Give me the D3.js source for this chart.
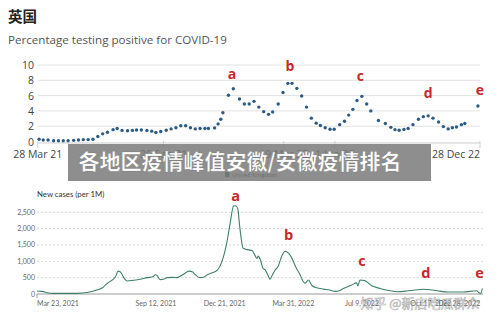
<!DOCTYPE html>
<html>
<head>
<meta charset="utf-8">
<script src="https://cdn.jsdelivr.net/npm/d3@7"></script>
<style>
  html, body { margin: 0; padding: 0; background: #fff; }
  svg { display: block; }
</style>
</head>
<body>
<div id="chart"></div>
<script>
// ---- data: percentage testing positive (ONS, weekly dots) ----
const posDates = [
  "2021-03-30","2021-04-05","2021-04-12","2021-04-20","2021-04-27","2021-05-04","2021-05-11","2021-05-19",
  "2021-05-26","2021-06-02","2021-06-09","2021-06-16","2021-06-23","2021-06-30","2021-07-07","2021-07-15",
  "2021-07-21","2021-07-28","2021-08-05","2021-08-12","2021-08-18","2021-08-25","2021-09-02","2021-09-09",
  "2021-09-15","2021-09-22","2021-09-30","2021-10-07","2021-10-14","2021-10-21","2021-10-28","2021-11-04",
  "2021-11-11","2021-11-18","2021-11-25","2021-11-30","2021-12-09","2021-12-14","2021-12-18","2021-12-21",
  "2021-12-29","2022-01-05","2022-01-14","2022-01-21","2022-01-28","2022-02-04","2022-02-11","2022-02-18",
  "2022-02-25","2022-03-03","2022-03-11","2022-03-18","2022-03-25","2022-03-31","2022-04-07","2022-04-14",
  "2022-04-21","2022-04-28","2022-05-05","2022-05-11","2022-05-18","2022-05-25","2022-05-31","2022-06-08",
  "2022-06-15","2022-06-21","2022-06-27","2022-07-03","2022-07-10","2022-07-17","2022-07-23","2022-08-03",
  "2022-08-13","2022-08-21","2022-08-27","2022-09-02","2022-09-09","2022-09-15","2022-09-22","2022-09-30",
  "2022-10-07","2022-10-14","2022-10-21","2022-10-29","2022-11-05","2022-11-12","2022-11-18","2022-11-24",
  "2022-12-01","2022-12-06","2022-12-25"
];
const posValues = [
  0.3,0.2,0.2,0.1,0.1,0.1,0.1,0.15,
  0.2,0.25,0.25,0.3,0.65,1.0,1.2,1.55,
  1.7,1.45,1.4,1.45,1.5,1.5,1.45,1.35,
  1.17,1.3,1.48,1.65,1.8,2.05,2.05,1.8,
  1.65,1.7,1.7,1.7,1.78,2.3,2.9,3.75,
  6.05,6.9,5.55,4.9,4.9,5.25,4.5,3.9,
  3.55,3.85,4.9,6.4,7.6,7.6,6.95,5.95,
  4.5,3.05,2.4,2.1,1.8,1.6,1.6,2.2,
  2.65,3.45,4.2,5.35,5.9,4.9,4.0,2.75,
  2.35,1.85,1.55,1.47,1.56,1.7,2.2,2.9,
  3.25,3.35,3.05,2.55,1.95,1.65,1.8,1.9,
  2.2,2.35,4.65
];
const posTickDates = ["2021-03-28","2021-09-26","2022-03-19","2022-06-01","2022-12-28"];
const posTickLabels = ["28 Mar 21","26 Sep 21","19 Mar 22","1 Jun 22","28 Dec 22"];
const posYTicks = [0, 2, 4, 6, 8, 10];
const posPeakLabels = ["a","b","c","d","e"];
const posPeakDates = ["2022-01-03","2022-03-28","2022-07-08","2022-10-14","2022-12-28"];
const posPeakValues = [8.2, 9.2, 7.9, 5.7, 6.1];

// ---- data: new cases per 1M (line) ----
const caseDates = [
  "2021-03-23","2021-03-30","2021-04-07","2021-04-15","2021-04-25","2021-05-06","2021-05-20","2021-06-04",
  "2021-06-13","2021-06-18","2021-06-23","2021-06-27","2021-06-30","2021-07-07","2021-07-15","2021-07-19",
  "2021-07-22","2021-07-28","2021-08-01","2021-08-10","2021-08-20","2021-08-30","2021-09-08","2021-09-11",
  "2021-09-14","2021-09-18","2021-09-24","2021-09-28","2021-10-07","2021-10-13","2021-10-17","2021-10-24",
  "2021-10-30","2021-11-04","2021-11-08","2021-11-15","2021-11-20","2021-11-25","2021-12-02","2021-12-10",
  "2021-12-17","2021-12-24","2021-12-29","2022-01-03","2022-01-06","2022-01-09","2022-01-12","2022-01-17",
  "2022-01-25","2022-01-30","2022-02-03","2022-02-06","2022-02-08","2022-02-11","2022-02-15","2022-02-18",
  "2022-02-23","2022-02-25","2022-02-28","2022-03-04","2022-03-09","2022-03-14","2022-03-19","2022-03-24",
  "2022-03-29","2022-04-03","2022-04-10","2022-04-15","2022-04-17","2022-04-22","2022-04-27","2022-05-04",
  "2022-05-14","2022-05-23","2022-05-31","2022-06-07","2022-06-12","2022-06-24","2022-07-01","2022-07-03",
  "2022-07-06","2022-07-13","2022-07-23","2022-08-04","2022-08-19","2022-08-29","2022-09-12","2022-09-24",
  "2022-10-06","2022-10-16","2022-10-26","2022-11-14","2022-12-03","2022-12-23","2022-12-26","2022-12-29",
  "2022-12-31"
];
const caseValues = [
  90,80,40,20,18,18,20,45,
  90,120,160,200,265,380,520,700,
  680,480,400,420,450,500,530,590,
  560,440,460,500,510,500,540,630,
  700,680,600,500,510,580,640,720,
  990,1550,2160,2690,2700,2620,2060,1400,
  1350,1330,1190,1090,1160,1050,780,740,
  530,450,560,720,850,1150,1310,1250,
  1090,850,580,360,330,430,260,190,
  150,120,80,110,170,275,340,250,
  430,410,250,170,100,70,90,120,
  145,130,100,60,60,100,40,20,
  170
];
const caseTickDates = ["2021-03-23","2021-09-12","2021-12-21","2022-03-31","2022-07-09","2022-10-17","2022-12-28"];
const caseTickLabels = ["Mar 23, 2021","Sep 12, 2021","Dec 21, 2021","Mar 31, 2022","Jul 9, 2022","Oct 17, 2022","Dec 28, 2022"];
const caseYTicks = [0, 500, 1000, 1500, 2000, 2500];
const casePeakLabels = ["a","b","c","d","e"];
const casePeakDates = ["2022-01-06","2022-03-24","2022-07-09","2022-10-10","2022-12-27"];
const casePeakValues = [2850, 1650, 860, 490, 480];

const parse = d3.timeParse("%Y-%m-%d");
const W = 500, H = 325;
const red = "#c8282a";

const svg = d3.select("#chart").append("svg")
  .attr("width", W).attr("height", H);

// ================= top chart =================
svg.append("text").attr("x", 8).attr("y", 22)
  .attr("font-family", "'Noto Sans CJK SC', sans-serif")
  .attr("font-weight", "bold").attr("font-size", 14.5).attr("fill", "#222")
  .text("英国");
svg.append("text").attr("x", 8).attr("y", 44)
  .attr("font-family", "'Open Sans', sans-serif")
  .attr("font-size", 11.6).attr("fill", "#555")
  .text("Percentage testing positive for COVID-19");

const xTop = d3.scaleTime()
  .domain([parse("2021-03-28"), parse("2022-12-28")])
  .range([37.7, 480]);
const yTop = d3.scaleLinear().domain([0, 10]).range([141.5, 65]);

const topG = svg.append("g").attr("font-family", "'Open Sans', sans-serif");

// gridlines
topG.selectAll("line.grid").data(posYTicks.filter(d => d > 0)).join("line")
  .attr("class", "grid")
  .attr("x1", 37.7).attr("x2", 480)
  .attr("y1", d => yTop(d)).attr("y2", d => yTop(d))
  .attr("stroke", "#e2e2e2").attr("stroke-width", 1);

// y labels
topG.selectAll("text.yl").data(posYTicks).join("text")
  .attr("class", "yl")
  .attr("x", 34).attr("y", d => yTop(d) + 4)
  .attr("text-anchor", "end")
  .attr("font-size", 10.5).attr("fill", "#444")
  .text(d => d);

// x axis
const xAxisTop = topG.append("g").attr("transform", "translate(0,143)");
xAxisTop.append("line").attr("x1", 37.7).attr("x2", 480)
  .attr("stroke", "#cfcfcf");
xAxisTop.selectAll("line.tk").data(posTickDates).join("line")
  .attr("class", "tk")
  .attr("x1", d => xTop(parse(d))).attr("x2", d => xTop(parse(d)))
  .attr("y1", -2).attr("y2", 5)
  .attr("stroke", "#cfcfcf");
xAxisTop.selectAll("text").data(posTickDates).join("text")
  .attr("x", d => xTop(parse(d)))
  .attr("y", 15)
  .attr("text-anchor", (d, i) => i === posTickDates.length - 1 ? "end" : "middle")
  .attr("font-size", 10.5).attr("fill", "#444")
  .text((d, i) => posTickLabels[i]);

// dots
topG.selectAll("circle").data(posDates).join("circle")
  .attr("cx", d => xTop(parse(d)))
  .attr("cy", (d, i) => yTop(posValues[i]))
  .attr("r", 1.7)
  .attr("fill", "#2d5b84");

// peak letters
topG.selectAll("text.pk").data(posPeakLabels).join("text")
  .attr("class", "pk")
  .attr("x", (d, i) => xTop(parse(posPeakDates[i])))
  .attr("y", (d, i) => yTop(posPeakValues[i]))
  .attr("text-anchor", "middle")
  .attr("font-family", "'Open Sans', sans-serif")
  .attr("font-weight", "bold").attr("font-size", 14).attr("fill", red)
  .text(d => d);

// legend
svg.append("rect").attr("x", 225).attr("y", 172).attr("width", 4.5).attr("height", 5)
  .attr("fill", "#1f5f46");
svg.append("text").attr("x", 232).attr("y", 177)
  .attr("font-family", "'Open Sans', sans-serif")
  .attr("font-size", 6).attr("fill", "#222")
  .text("United Kingdom");

// ================= bottom chart =================
const xBot = d3.scaleTime()
  .domain([parse("2021-03-23"), parse("2023-01-01")])
  .range([37, 483]);
const yBot = d3.scaleLinear().domain([0, 2500]).range([294, 212.3]);

const botG = svg.append("g").attr("font-family", "Lato, sans-serif");

botG.append("text").attr("x", 37).attr("y", 197)
  .attr("font-size", 7.8).attr("fill", "#333")
  .text("New cases (per 1M)");

botG.selectAll("line.grid").data(caseYTicks.filter(d => d > 0)).join("line")
  .attr("class", "grid")
  .attr("x1", 37).attr("x2", 483)
  .attr("y1", d => yBot(d)).attr("y2", d => yBot(d))
  .attr("stroke", "#d6d6d6").attr("stroke-dasharray", "2,2");

botG.selectAll("text.yl").data(caseYTicks).join("text")
  .attr("class", "yl")
  .attr("x", 35).attr("y", d => yBot(d) + 2.5)
  .attr("text-anchor", "end")
  .attr("font-size", 7).attr("fill", "#666")
  .text(d => d3.format(",")(d));

botG.append("line").attr("x1", 37).attr("x2", 483)
  .attr("y1", 294).attr("y2", 294).attr("stroke", "#9a9a9a");
botG.append("line").attr("x1", 37).attr("x2", 37)
  .attr("y1", 294).attr("y2", 298).attr("stroke", "#9a9a9a");

botG.selectAll("text.xl").data(caseTickDates).join("text")
  .attr("class", "xl")
  .attr("x", d => xBot(parse(d)))
  .attr("y", 306)
  .attr("text-anchor", (d, i) => i === 0 ? "start" : (i === caseTickDates.length - 1 ? "end" : "middle"))
  .attr("font-size", 7).attr("fill", "#666")
  .text((d, i) => caseTickLabels[i]);

const caseLine = d3.line()
  .x(d => xBot(parse(d)))
  .y((d, i) => yBot(caseValues[i]))
  .curve(d3.curveMonotoneX);

botG.append("path")
  .attr("d", caseLine(caseDates))
  .attr("fill", "none")
  .attr("stroke", "#3f8068")
  .attr("stroke-width", 1.1);

botG.selectAll("text.pk").data(casePeakLabels).join("text")
  .attr("class", "pk")
  .attr("x", (d, i) => xBot(parse(casePeakDates[i])))
  .attr("y", (d, i) => yBot(casePeakValues[i]))
  .attr("text-anchor", "middle")
  .attr("font-family", "'Open Sans', sans-serif")
  .attr("font-weight", "bold").attr("font-size", 14.5).attr("fill", red)
  .text(d => d);

// ================= overlays =================
svg.append("rect").attr("x", 68).attr("y", 144).attr("width", 363).attr("height", 37)
  .attr("fill", "#7a7a7a").attr("opacity", 0.85);
svg.append("text").attr("x", 240).attr("y", 169)
  .attr("text-anchor", "middle")
  .attr("font-family", "'Noto Sans CJK SC', sans-serif")
  .attr("font-weight", "bold").attr("font-size", 21)
  .attr("fill", "#fff")
  .attr("stroke", "rgba(60,60,60,0.35)").attr("stroke-width", 0.6)
  .text("各地区疫情峰值安徽/安徽疫情排名");

svg.append("text").attr("x", 420).attr("y", 308)
  .attr("text-anchor", "middle")
  .attr("font-family", "'Noto Sans CJK SC', sans-serif")
  .attr("font-size", 13)
  .attr("fill", "rgba(255,255,255,0.55)")
  .attr("stroke", "rgba(110,110,110,0.55)").attr("stroke-width", 0.6)
  .text("知乎 @新店吃瓜群众");
</script>
</body>
</html>
